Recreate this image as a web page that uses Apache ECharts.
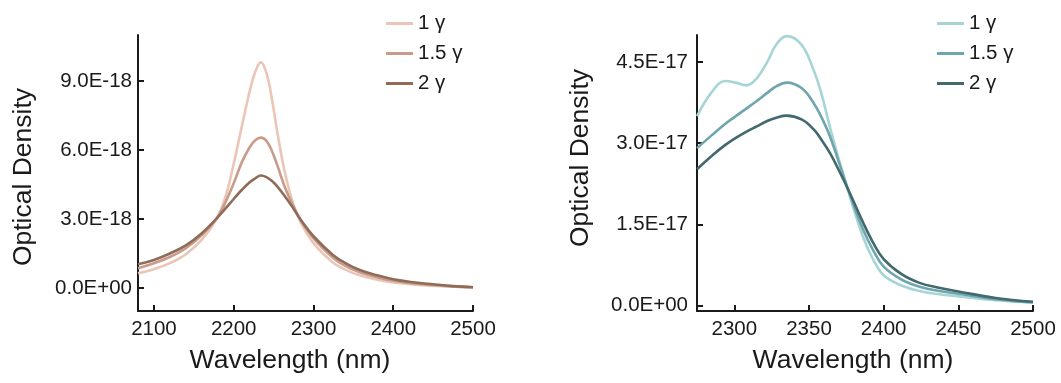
<!DOCTYPE html>
<html><head><meta charset="utf-8">
<script src="https://cdn.jsdelivr.net/npm/echarts@6/dist/echarts.min.js"></script>
<style>html,body{margin:0;padding:0;background:#fff}#c{width:1061px;height:383px}</style>
</head><body><div id="c"></div>
<script>
const seriesLabels = ['1 γ', '1.5 γ', '2 γ'];

// Left panel: wavelength (nm) and optical density in units of 1E-18
const leftWavelengths = [2080, 2100, 2120, 2140, 2160, 2179, 2190, 2200, 2210, 2220, 2227, 2234, 2241, 2248, 2255, 2265, 2275, 2284, 2300, 2324, 2340, 2358, 2380, 2400, 2425, 2450, 2475, 2500];
const left1g  = [0.64, 0.82, 1.08, 1.47, 2.10, 3.04, 4.00, 5.40, 7.00, 8.55, 9.40, 9.81, 9.35, 8.20, 6.70, 4.89, 3.60, 2.85, 1.95, 1.12, 0.80, 0.55, 0.36, 0.24, 0.15, 0.10, 0.06, 0.03];
const left15g = [0.86, 1.08, 1.35, 1.73, 2.30, 3.04, 3.75, 4.55, 5.45, 6.12, 6.42, 6.54, 6.40, 5.95, 5.30, 4.30, 3.55, 2.95, 2.16, 1.33, 0.96, 0.68, 0.46, 0.32, 0.20, 0.13, 0.07, 0.03];
const left2g  = [1.03, 1.22, 1.50, 1.85, 2.38, 3.04, 3.47, 3.87, 4.26, 4.60, 4.77, 4.89, 4.82, 4.65, 4.40, 3.95, 3.45, 2.97, 2.25, 1.45, 1.08, 0.78, 0.55, 0.38, 0.25, 0.16, 0.08, 0.03];
const leftXTicks = [2100, 2200, 2300, 2400, 2500];
const leftYTicks = [0, 3, 6, 9];

// Right panel: wavelength (nm) and optical density in units of 1E-17
const rightWavelengths = [2275, 2285, 2294, 2301, 2308, 2315, 2322, 2328, 2335, 2345, 2353, 2358, 2364, 2370, 2377, 2386, 2393, 2400, 2412, 2424, 2437, 2450, 2475, 2500];
const right1g  = [3.50, 3.95, 4.15, 4.12, 4.07, 4.20, 4.50, 4.82, 4.98, 4.82, 4.36, 3.95, 3.30, 2.70, 2.05, 1.28, 0.85, 0.56, 0.37, 0.27, 0.21, 0.17, 0.10, 0.06];
const right15g = [2.91, 3.15, 3.36, 3.50, 3.64, 3.78, 3.93, 4.05, 4.12, 4.02, 3.75, 3.50, 3.13, 2.65, 2.08, 1.42, 1.02, 0.72, 0.48, 0.35, 0.27, 0.22, 0.12, 0.06];
const right2g  = [2.52, 2.77, 2.97, 3.10, 3.21, 3.31, 3.41, 3.47, 3.51, 3.44, 3.26, 3.08, 2.82, 2.50, 2.10, 1.55, 1.16, 0.86, 0.58, 0.42, 0.33, 0.26, 0.14, 0.07];
const rightXTicks = [2300, 2350, 2400, 2450, 2500];
const rightYTicks = [0, 1.5, 3, 4.5];

const leftColors = ['#ebc5b6', '#c89b8b', '#8e6c58'];
const rightColors = ['#a6d5d8', '#6fa5ad', '#42696d'];

const FONT = '"Liberation Sans", Arial, sans-serif';
const zip = (xs, ys) => xs.map((x, i) => [x, ys[i]]);

function xAxisCfg(gridIndex, min, max, ticks) {
  return {
    type: 'value', gridIndex, min, max,
    axisLine: { show: true, onZero: false, lineStyle: { color: '#1a1a1a', width: 2 } },
    axisTick: { show: true, inside: true, length: 6, customValues: ticks, lineStyle: { color: '#1a1a1a', width: 2 } },
    axisLabel: { customValues: ticks, margin: 8, fontSize: 20.5, color: '#1a1a1a', fontFamily: FONT, formatter: v => String(v) },
    splitLine: { show: false }
  };
}
function yAxisCfg(gridIndex, min, max, ticks, fmt, margin) {
  return {
    type: 'value', gridIndex, min, max,
    axisLine: { show: true, onZero: false, lineStyle: { color: '#1a1a1a', width: 2 } },
    axisTick: { show: true, inside: true, length: 6, customValues: ticks, lineStyle: { color: '#1a1a1a', width: 2 } },
    axisLabel: { customValues: ticks, margin, fontSize: 20.5, color: '#1a1a1a', fontFamily: FONT, formatter: fmt },
    splitLine: { show: false }
  };
}
function lineSeries(name, xIdx, data, color) {
  return {
    type: 'line', name, xAxisIndex: xIdx, yAxisIndex: xIdx, data,
    showSymbol: false, smooth: 0.4, clip: true,
    lineStyle: { color, width: 2.6 }, itemStyle: { color }
  };
}

const leftData = [left1g, left15g, left2g];
const rightData = [right1g, right15g, right2g];
const series = [];
seriesLabels.forEach((lab, i) => series.push(lineSeries('L:' + lab, 0, zip(leftWavelengths, leftData[i]), leftColors[i])));
seriesLabels.forEach((lab, i) => series.push(lineSeries('R:' + lab, 1, zip(rightWavelengths, rightData[i]), rightColors[i])));

function legendCfg(prefix, left) {
  return {
    orient: 'vertical', left, top: 8,
    data: seriesLabels.map(l => prefix + l),
    formatter: n => n.slice(2),
    icon: 'rect', itemWidth: 27, itemHeight: 3, itemGap: 9,
    textStyle: { fontSize: 20.5, color: '#1a1a1a', fontFamily: FONT },
    selectedMode: false
  };
}

const chart = echarts.init(document.getElementById('c'), null, { renderer: 'canvas' });
chart.setOption({
  backgroundColor: '#ffffff',
  animation: false,
  grid: [
    { left: 138, top: 35, width: 335, height: 276, outerBoundsMode: 'none' },
    { left: 697, top: 35, width: 336, height: 276, outerBoundsMode: 'none' }
  ],
  xAxis: [
    xAxisCfg(0, 2080, 2500, leftXTicks),
    xAxisCfg(1, 2275, 2500, rightXTicks)
  ],
  yAxis: [
    yAxisCfg(0, -1.0, 11.0, leftYTicks, v => v === 0 ? '0.0E+00' : v.toFixed(1) + 'E-18', 6),
    yAxisCfg(1, -0.1, 5.0, rightYTicks, v => v === 0 ? '0.0E+00' : v.toFixed(1) + 'E-17', 9)
  ],
  legend: [legendCfg('L:', 381), legendCfg('R:', 932)],
  series,
  graphic: [
    { type: 'text', x: 23.5, y: 177, rotation: Math.PI / 2, style: { text: 'Optical Density', fontSize: 26.5, fontFamily: FONT, fill: '#1a1a1a', textAlign: 'center', textVerticalAlign: 'middle' } },
    { type: 'text', x: 580.5, y: 158, rotation: Math.PI / 2, style: { text: 'Optical Density', fontSize: 26.5, fontFamily: FONT, fill: '#1a1a1a', textAlign: 'center', textVerticalAlign: 'middle' } },
    { type: 'text', x: 290, y: 361, style: { text: 'Wavelength (nm)', fontSize: 26.5, fontFamily: FONT, fill: '#1a1a1a', textAlign: 'center', textVerticalAlign: 'middle' } },
    { type: 'text', x: 853, y: 361, style: { text: 'Wavelength (nm)', fontSize: 26.5, fontFamily: FONT, fill: '#1a1a1a', textAlign: 'center', textVerticalAlign: 'middle' } }
  ]
});
</script>
</body></html>
